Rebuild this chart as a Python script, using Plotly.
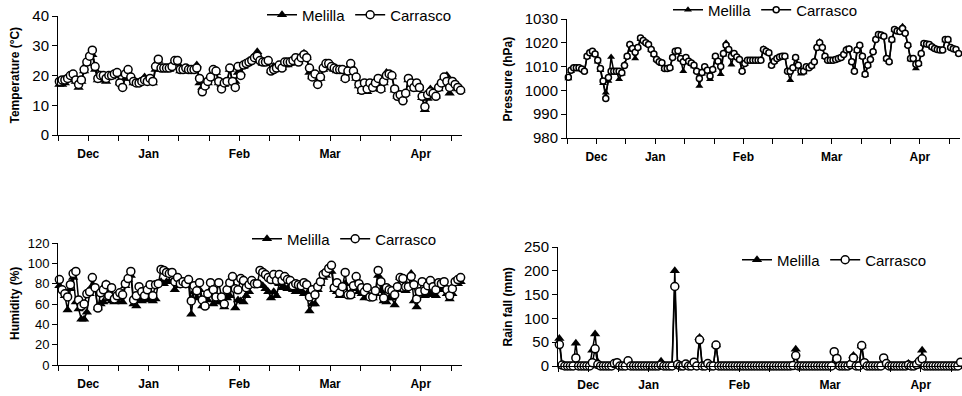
import plotly.graph_objects as go

# ---------------- data ----------------
n_days = 147
day_index = list(range(n_days))
month_labels = ["Dec", "Jan", "Feb", "Mar", "Apr"]
month_tick_pos = [10.5, 32.5, 65.5, 98.5, 131.5]

temp_carrasco = [
    18, 18.5, 18.5, 19, 20, 20.5, 18.5, 17, 18.5, 22,
    24.5, 26.5, 28.5, 23, 19, 20, 20, 19, 20, 20,
    20.5, 21, 17.5, 16, 20.5, 22, 19.5, 18, 17.5, 17.5,
    18, 18.5, 18, 19, 18, 23, 25.5, 22.5, 22.5, 22.5,
    22.5, 23, 25, 25, 22, 22, 22.5, 22, 22, 22,
    22.5, 19, 14.5, 16.5, 18, 19.5, 22, 21.5, 18, 15.5,
    17.5, 18, 22.5, 18, 16, 23, 20, 23.5, 24, 24.5,
    25, 26, 26.5, 25, 24.5, 24.5, 25, 21.5, 22, 22.5,
    23.5, 22.5, 24.5, 24.5, 24.5, 25, 26, 24.5, 26, 27,
    26, 22.5, 19.5, 20.5, 17, 19.5, 22.5, 24, 24, 23,
    22.5, 22, 22, 22, 19, 21.5, 24, 21.5, 19.5, 17,
    15, 17.5, 15.5, 17.5, 16, 17.5, 19, 15.5, 18, 20,
    20.5, 20, 15.5, 13, 13.5, 11.5, 14, 19, 17.5, 16,
    17.5, 16, 13, 9.5, 13.5, 14.5, 14, 13, 16, 17.5,
    19.5, 18, 16, 18, 17, 16, 15,
]
temp_melilla = [
    17, 17, 17.5, 18.5, 19.5, 20, 18, 16, 18, 21.5,
    24, 26, 27, 22, 18.5, 18.5, 18.5, 18, 19.5, 19.5,
    20, 20.5, 17.5, 16.5, 19, 21, 19, 17.5, 17.5, 17.5,
    17.5, 19.5, 18, 18.5, 17.5, 22, 25, 22, 22, 22.5,
    22, 23, 24.5, 24, 21.5, 21.5, 22, 21.5, 21.5, 21.5,
    23.5, 17.5, 16, 16.5, 17.5, 19, 21, 21, 17.5, 17,
    17, 18, 22, 17.5, 18, 21, 21, 23, 24, 25,
    25.5, 26, 28, 25, 24, 24, 24.5, 21.5, 23, 22.5,
    23, 22.5, 23.5, 23.5, 24, 24.5, 25.5, 24.5, 26, 27.5,
    26, 21, 19.5, 20, 17.5, 19, 22, 23.5, 24, 22.5,
    22, 21.5, 21.5, 22, 19, 22, 23.5, 21, 19, 16.5,
    14.5, 17, 14.5, 17, 15.5, 17, 18.5, 15.3, 17.5, 21,
    20, 19.5, 15, 13, 13.5, 12, 14, 18.5, 17, 15.5,
    15.3, 15.7, 12.5, 8.5, 12.3, 15.5, 14.5, 13, 15.5, 17,
    18.5, 20, 14, 18, 17, 15.5, 15,
]

pres_carrasco = [
    1005.5, 1008.5, 1009.5, 1009.5, 1009.5, 1009, 1008, 1014.4, 1015.8, 1016.5,
    1015.3, 1012.7, 1009.2, 1003.9, 996.6, 1005.4, 1008, 1008, 1008, 1008,
    1007.4, 1010.5, 1014.4, 1019.3, 1017.6, 1016, 1018, 1022, 1021, 1020,
    1019.3, 1017.2, 1015.3, 1013, 1012, 1011.6, 1009.2, 1009.2, 1009.5, 1013.8,
    1016.5, 1016.7, 1013.4, 1012, 1013.8, 1012.3, 1011.5, 1010.6, 1008, 1005,
    1007.5, 1009.9, 1008.5, 1006, 1008.8, 1014.4, 1012.3, 1010, 1015.5, 1019,
    1017.2, 1014.4, 1015.5, 1014, 1013, 1008, 1011.3, 1012.7, 1012.7, 1012.7,
    1012.7, 1012.7, 1012.7, 1017.2, 1016.5, 1015.8, 1010.6, 1012.3, 1013.4, 1014,
    1014.4, 1014.4, 1008, 1008, 1009.5, 1013.8, 1010.6, 1008, 1008, 1009.9,
    1009.5, 1010.5, 1012, 1018, 1020, 1018, 1014.4, 1012.7, 1012.7, 1012.7,
    1013, 1013.4, 1013.8, 1015.1, 1017, 1017.4, 1012, 1008, 1017, 1019,
    1014.4, 1006.8, 1010.6, 1013, 1016.2, 1021.4, 1023.5, 1023.3, 1022.8, 1013.4,
    1012, 1021.4, 1025.6, 1025, 1024.7, 1026, 1024, 1019, 1013.4, 1013.4,
    1011, 1011.3, 1015.5, 1019.7, 1019.5, 1019.3, 1018.3, 1017.6, 1017.2, 1017,
    1017, 1021.4, 1021.4, 1018, 1017.5, 1017.2, 1015.5,
]
pres_melilla = [
    1005, 1008, 1009.5, 1009.5, 1009.5, 1009, 1008, 1014, 1015.5, 1016.5,
    1015, 1012, 1008.5, 1003, 999, 1004, 1014, 1008, 1008, 1004.7,
    1007, 1011, 1014, 1019.5, 1017, 1013.4, 1018, 1021.5, 1021, 1020,
    1019, 1017, 1015, 1013, 1012, 1011, 1009, 1009, 1009.5, 1014,
    1016.5, 1016, 1013, 1008, 1013.5, 1012, 1011, 1010, 1008, 1001.9,
    1007, 1010, 1008, 1004.7, 1008.5, 1014, 1012, 1006.8, 1015, 1020,
    1017.5, 1010.8, 1015, 1014, 1013, 1008, 1011, 1012.5, 1012.7, 1012.7,
    1012.7, 1012.7, 1013, 1017.5, 1016.5, 1015.5, 1010.5, 1012, 1013.4, 1014,
    1014.4, 1014, 1008, 1004.3, 1009, 1013.5, 1010.5, 1007, 1007.5, 1009.5,
    1009.5, 1010, 1012.5, 1018.5, 1020.5, 1018, 1014, 1012.7, 1012.7, 1012.7,
    1013, 1013.4, 1013.8, 1015.5, 1017.5, 1017.6, 1012, 1008, 1016.5, 1019,
    1014, 1006.5, 1010.5, 1013.5, 1016.5, 1021.5, 1023.5, 1023, 1022.5, 1013,
    1012, 1021, 1025.5, 1025, 1025, 1027, 1024.5, 1019, 1013, 1013,
    1009.2, 1011, 1015.5, 1019.5, 1019.5, 1019, 1018, 1017.5, 1017, 1017,
    1017, 1021, 1021, 1018, 1017.5, 1017, 1015.5,
]

hum_carrasco = [
    84, 74, 70, 67, 79, 90, 92, 64, 58, 60, 70,
    72, 86, 76, 56, 71, 74, 79, 68, 76, 65, 68,
    71, 69, 80, 85, 92, 64, 68, 77, 72, 68, 74,
    79, 68, 79, 80, 94, 93, 91, 90, 91, 82, 86,
    80, 82, 80, 84, 63, 78, 73, 81, 64, 58, 70,
    81, 74, 67, 81, 67, 60, 74, 81, 87, 75, 74,
    85, 83, 76, 79, 83, 80, 80, 93, 91, 89, 86,
    84, 89, 83, 89, 83, 87, 84, 83, 78, 80, 79,
    78, 81, 79, 67, 74, 69, 77, 82, 89, 91, 95,
    98, 76, 81, 71, 77, 91, 69, 69, 78, 87, 80,
    76, 72, 76, 67, 67, 73, 93, 82, 66, 76, 74,
    73, 69, 77, 86, 85, 77, 77, 87, 79, 65, 72,
    82, 73, 78, 83, 77, 74, 81, 80, 82, 74, 68, 75, 82, 84, 86,
]
hum_melilla = [
    78, 74, 68, 54, 75, 86, 62, 55, 45, 45, 52,
    70, 78, 74, 56, 60, 62, 80, 65, 63, 62, 63,
    66, 62, 78, 84, 88, 60, 58, 66, 63, 64, 65,
    65, 63, 65, 80, 82, 80, 82, 82, 82, 74, 80,
    78, 80, 78, 80, 50, 72, 66, 74, 58, 58, 64,
    74, 60, 64, 62, 62, 57, 66, 68, 78, 56, 64,
    63, 62, 68, 72, 78, 78, 78, 80, 78, 75, 72,
    66, 72, 68, 80, 76, 76, 75, 78, 74, 72, 72,
    73, 70, 70, 53, 60, 60, 74, 80, 86, 88, 92,
    92, 74, 72, 68, 70, 80, 68, 68, 75, 82, 72,
    70, 66, 70, 66, 66, 70, 88, 73, 63, 62, 66,
    66, 59, 74, 86, 84, 73, 76, 90, 63, 57, 70,
    70, 68, 72, 70, 69, 68, 76, 74, 78, 70, 65, 70, 80, 80, 82,
]

rain_carrasco = [
    45, 2, 0, 0, 0, 0, 17, 0, 0, 0,
    0, 0, 7, 36, 3, 0, 0, 0, 0, 0,
    5, 7, 0, 0, 0, 11, 0, 0, 0, 0,
    0, 0, 0, 0, 0, 0, 0, 2, 0, 0,
    0, 0, 167, 3, 0, 0, 4, 0, 0, 8,
    0, 55, 0, 0, 5, 0, 0, 44, 0, 0,
    0, 0, 0, 0, 0, 0, 0, 0, 0, 0,
    0, 0, 0, 0, 0, 0, 0, 0, 0, 0,
    0, 0, 0, 0, 0, 1, 22, 0, 0, 0,
    0, 0, 0, 0, 0, 0, 0, 0, 0, 0,
    30, 16, 0, 0, 0, 0, 3, 17, 0, 0,
    43, 7, 0, 0, 0, 0, 0, 0, 17, 5,
    0, 0, 0, 0, 0, 0, 0, 2, 0, 0,
    3, 10, 15, 0, 0, 0, 0, 0, 0, 0,
    0, 0, 0, 0, 0, 0, 8,
]
rain_melilla = [
    58, 0, 0, 0, 0, 0, 48, 0, 0, 0,
    0, 0, 33, 67, 8, 0, 0, 0, 0, 0,
    0, 8, 0, 0, 0, 3, 0, 0, 0, 0,
    0, 0, 0, 0, 0, 0, 0, 10, 0, 0,
    0, 0, 200, 0, 0, 0, 0, 0, 0, 0,
    0, 60, 0, 0, 4, 0, 0, 44, 0, 0,
    0, 0, 0, 0, 0, 0, 0, 0, 0, 0,
    0, 0, 0, 0, 0, 0, 0, 0, 0, 0,
    0, 0, 0, 0, 0, 0, 35, 0, 0, 0,
    0, 0, 0, 0, 0, 0, 0, 0, 0, 0,
    0, 10, 0, 0, 0, 0, 8, 22, 0, 0,
    42, 0, 0, 0, 0, 0, 0, 0, 8, 0,
    0, 0, 0, 0, 0, 0, 0, 5, 0, 0,
    0, 0, 33, 0, 0, 0, 0, 0, 0, 0,
    0, 0, 0, 0, 0, 0, 0,
]

# ---------------- figure ----------------
W, H = 962, 396
FONT = "Arial, Liberation Sans, sans-serif"


def xd(a, b):
    return [a / W, b / W]


def yd(top, bottom):
    return [1 - bottom / H, 1 - top / H]


panels = [
    ("", xd(58, 462), yd(16, 135), [0, 40], 10, temp_melilla, temp_carrasco, "legend", 8, 15,
     "Temperature (°C)", 15),
    ("2", xd(567, 960), yd(19, 138), [980, 1030], 10, pres_melilla, pres_carrasco, "legend2", 6, 15,
     "Pressure (hPa)", 507),
    ("3", xd(58, 462), yd(243, 365), [0, 120], 20, hum_melilla, hum_carrasco, "legend3", 8, 13,
     "Humidity (%)", 15),
    ("4", xd(558, 962), yd(247, 366), [0, 250], 50, rain_melilla, rain_carrasco, "legend4", 8, 15,
     "Rain fall (mm)", 507),
]

fig = go.Figure()
layout = dict(
    width=W, height=H,
    margin=dict(l=0, r=0, t=0, b=0, autoexpand=False),
    paper_bgcolor="white", plot_bgcolor="white",
    font=dict(family=FONT, color="black"),
    annotations=[],
)

legend_pos = {
    "legend": (262, 15),
    "legend2": (668, 10),
    "legend3": (247, 239),
    "legend4": (737, 260),
}

for suf, xdom, ydom, yr, dt, mel, car, leg, ms, tfs, title, tx in panels:
    xa = "x" + suf
    ya = "y" + suf
    fig.add_trace(go.Scatter(
        x=day_index, y=mel, mode="lines+markers", name="Melilla",
        xaxis=xa, yaxis=ya, legend=leg, cliponaxis=False,
        line=dict(color="black", width=1.5),
        marker=dict(symbol="triangle-up", size=ms + 1, color="black"),
    ))
    fig.add_trace(go.Scatter(
        x=day_index, y=car, mode="lines+markers", name="Carrasco",
        xaxis=xa, yaxis=ya, legend=leg, cliponaxis=False,
        line=dict(color="black", width=1.5),
        marker=dict(symbol="circle", size=ms, color="white",
                    line=dict(color="black", width=1.5)),
    ))
    layout["xaxis" + suf] = dict(
        domain=xdom, anchor=ya, range=[-0.5, n_days - 0.5],
        tickmode="array", tickvals=month_tick_pos, ticktext=month_labels,
        ticks="outside", ticklen=5, tickcolor="black", tickwidth=1,
        minor=dict(ticks="outside", tickmode="linear", tick0=-0.5, dtick=11,
                   ticklen=5, tickcolor="black", tickwidth=1, showgrid=False),
        showline=True, linecolor="black", linewidth=1,
        showgrid=False, zeroline=False, ticklabelstandoff=3,
        tickfont=dict(family=FONT, size=12, color="black", weight="bold"),
    )
    layout["yaxis" + suf] = dict(
        domain=ydom, anchor=xa, range=yr, dtick=dt, tick0=yr[0],
        ticks="outside", ticklen=5, tickcolor="black", tickwidth=1,
        showline=True, linecolor="black", linewidth=1,
        showgrid=False, zeroline=False,
        tickfont=dict(family=FONT, size=tfs, color="black"),
    )
    lx, ly = legend_pos[leg]
    layout[leg] = dict(
        x=lx / W, y=1 - ly / H, xanchor="left", yanchor="middle",
        orientation="h", bgcolor="rgba(0,0,0,0)", borderwidth=0,
        font=dict(family=FONT, size=15, color="black"),
        itemwidth=30, tracegroupgap=0,
    )
    ymid = (ydom[0] + ydom[1]) / 2
    layout["annotations"].append(dict(
        text=title, textangle=-90, xref="paper", yref="paper",
        x=tx / W, y=ymid, xanchor="center", yanchor="middle", showarrow=False,
        font=dict(family=FONT, size=12, color="black", weight="bold"),
    ))

fig.update_layout(**layout)
fig.write_html(
    "out.html",
    config={"displayModeBar": False},
    post_script="document.body.style.margin='0px';document.body.style.overflow='hidden';",
)
